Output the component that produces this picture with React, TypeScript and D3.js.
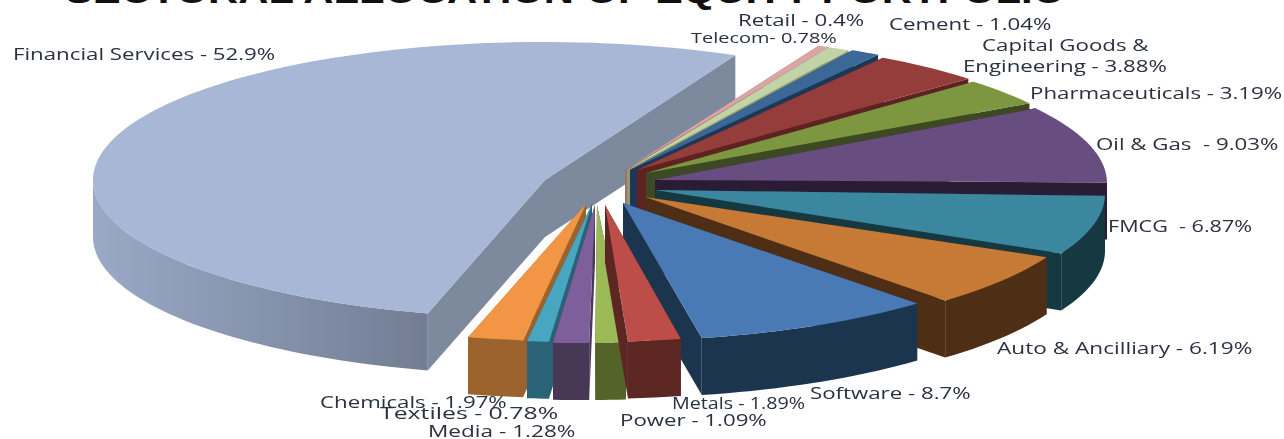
import React from "react";
import * as d3 from "d3";

const categories = ["Retail","Telecom","Cement","Capital Goods & Engineering","Pharmaceuticals","Oil & Gas","FMCG","Auto & Ancilliary","Software","Metals","Power","Media","Textiles","Chemicals","Financial Services"];
const shares = [0.4,0.78,1.04,3.88,3.19,9.03,6.87,6.19,8.7,1.89,1.09,1.28,0.78,1.97,52.9];
const topColors = ["#d9a5a5","#c3d3a8","#3a6796","#953d3a","#7b973f","#684e80","#3a87a0","#c67a35","#4a7ab5","#bc4e4a","#9bb957","#7e5f9c","#48a6c0","#f29545","#a8b7d6"];
const sideColors = ["#a07070","#8e9c72","#1e3857","#5e2422","#3e4a20","#2b1f35","#16383f","#4f2f15","#1f344f","#5c2523","#52632c","#473757","#2b6375","#9c632d","#7d899c"];
const labelLines = [["Retail - 0.4%"],["Telecom- 0.78%"],["Cement - 1.04%"],["Capital Goods &","Engineering - 3.88%"],["Pharmaceuticals - 3.19%"],["Oil & Gas  - 9.03%"],["FMCG  - 6.87%"],["Auto & Ancilliary - 6.19%"],["Software - 8.7%"],["Metals - 1.89%"],["Power - 1.09%"],["Media - 1.28%"],["Textiles - 0.78%"],["Chemicals - 1.97%"],["Financial Services - 52.9%"]];
const title = "SECTORAL ALLOCATION OF EQUITY PORTFOLIO";

// layout
const W = 1284, H = 439, RX = 450, RY = 138, DEPTH = 57, START = 23.8;
const rimCentre: [number, number][] = [[637,172],[637,172],[641,172],[646,175],[651,178],[657,183],[655,194],[637,200],[609,203],[588,204],[586,205],[580,205],[576,204],[572,203],[543,180]];
const apexShift: [number, number][] = [[-12,-2],[-10,-2],[-11,-2],[-9,-5],[-5,-5],[-2,-3],[0,-4],[8,-3],[14,0],[17,1],[11,0],[15,0],[16,0],[14,1],[2,0]];
const angleNudge = [0,0,0,0,0,0,1,0,0,0,0,0,0,0,1.5];
const labelAnchor: [number, number][] = [[738,26],[691,43],[889,30],[982,51],[1030,99],[1096,150],[1108,232],[997,354],[810,399],[672,409],[620,426],[428,437],[380,419],[320,408],[13,60]];
const labelLead = 21;
const secondLineIndent = -19;
const labelStretch = [1.31,1.33,1.31,1.31,1.31,1.31,1.27,1.33,1.31,1.16,1.31,1.33,1.46,1.31,1.31];
const drawOrder = [14,0,1,2,3,4,5,6,7,8,13,12,11,10,9];

const pieGen = d3.pie<number>().sort(null).startAngle((START * Math.PI) / 180).endAngle(((START + 360) * Math.PI) / 180);
const arcs = pieGen(shares);
const x = d3.scaleLinear().domain([-1, 1]).range([-RX, RX]);
const y = d3.scaleLinear().domain([-1, 1]).range([-RY, RY]);
const line = d3.line<[number, number]>();

function rimPts(i: number, a0: number, a1: number): [number, number][] {
  const n = Math.max(4, Math.ceil((a1 - a0) / 0.03));
  return d3.range(n + 1).map((k) => {
    const t = a0 + ((a1 - a0) * k) / n;
    return [rimCentre[i][0] + x(Math.sin(t)), rimCentre[i][1] + y(-Math.cos(t))] as [number, number];
  });
}

export default function App() {
  return (
    <svg width={W} height={H} style={{ position: "absolute", left: 0, top: 0, background: "#fff" }} fontFamily="'Open Sans', 'DejaVu Sans', sans-serif">
      <defs>
        <linearGradient id="finSide" x1="0" x2="1" y1="0" y2="0">
          <stop offset="0" stopColor="#9aa9c6" />
          <stop offset="0.55" stopColor="#8491aa" />
          <stop offset="1" stopColor="#717d92" />
        </linearGradient>
        <filter id="soft" x="-5%" y="-5%" width="110%" height="110%"><feGaussianBlur stdDeviation="0.5" /></filter>
        <filter id="softText" x="-5%" y="-20%" width="110%" height="140%"><feGaussianBlur stdDeviation="0.35" /></filter>
      </defs>
      <text x={565} y={3} textAnchor="middle" fontSize={35} fontWeight={700} fill="#111" fontFamily="Liberation Sans, sans-serif" textLength={1000} lengthAdjust="spacingAndGlyphs">{title}</text>
      <g filter="url(#soft)">
        {drawOrder.map((i) => {
          const a = arcs[i];
          const nudge = (angleNudge[i] * Math.PI) / 180;
          const a0 = a.startAngle + nudge, a1 = a.endAngle + nudge;
          const rim = rimPts(i, a0, a1);
          const apex: [number, number] = [rimCentre[i][0] + apexShift[i][0], rimCentre[i][1] + apexShift[i][1]];
          const down = (p: [number, number]): [number, number] => [p[0], p[1] + DEPTH];
          const first = rim[0], last = rim[rim.length - 1];
          const isFin = i === 14;
          const frontFrom = isFin ? a0 : Math.max(a0, Math.PI / 2);
          const frontTo = isFin ? 1.5 * Math.PI : a1;
          const front = frontTo > frontFrom ? rimPts(i, frontFrom, frontTo) : [];
          const outerFace = [...front, ...front.map(down).reverse()];
          return (
            <g key={categories[i]}>
              <path d={line([apex, down(apex), down(first), first])! + "Z"} fill={sideColors[i]} />
              <path d={line([apex, down(apex), down(last), last])! + "Z"} fill={sideColors[i]} />
              {front.length > 0 && <path d={line(outerFace)! + "Z"} fill={isFin ? "url(#finSide)" : sideColors[i]} />}
              <path d={line([apex, ...rim])! + "Z"} fill={topColors[i]} />
            </g>
          );
        })}
      </g>
      <g filter="url(#softText)">
        {labelLines.map((ls, i) =>
          ls.map((l, j) => (
            <text
              key={categories[i] + j}
              fontSize={i === 1 ? 15 : 17}
              fill="#2a3040"
              style={{ whiteSpace: "pre" }}
              transform={`translate(${labelAnchor[i][0] + j * secondLineIndent},${labelAnchor[i][1] + j * labelLead}) scale(${labelStretch[i]},1)`}
            >
              {l}
            </text>
          ))
        )}
      </g>
    </svg>
  );
}
